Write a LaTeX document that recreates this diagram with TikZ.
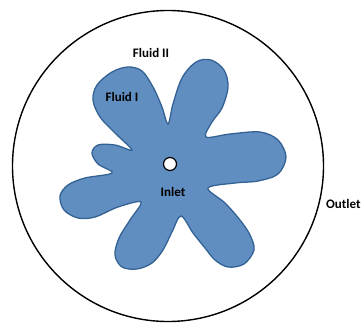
\documentclass[tikz,border=0pt]{standalone}
\usepackage{fontspec}
\setmainfont{Carlito}
\definecolor{blobfill}{RGB}{96,142,192}
\definecolor{blobline}{RGB}{52,98,148}
\begin{document}
\begin{tikzpicture}[x=1pt,y=-1pt,
  lbl/.style={font=\bfseries\fontsize{13}{14}\selectfont, inner sep=0pt}]
\useasboundingbox (0,0) rectangle (361,323);
\node[draw=black, line width=1.4pt, circle, minimum size=311pt, inner sep=0pt] (outer) at (168,166) {};
\draw[fill=blobfill, draw=blobline, line width=1.3pt]
  plot[smooth cycle, tension=0.55] coordinates {
  (132,150) (115,133) (100,117) (93,100) (97,85) (112,72) (128,67) (142,71) (153,87) (162,107) (168,124)
  (173,104) (182,78) (196,62) (211,60) (224,70) (228,87) (222,108) (212,122) (206,137)
  (230,134) (260,132) (278,140) (286,157) (278,174) (258,181) (235,183) (208,188)
  (225,203) (240,220) (250,235) (254,250) (244,264) (228,267) (215,260) (205,248) (193,233) (181,216)
  (172,232) (163,250) (152,263) (137,269) (122,267) (115,255) (119,238) (130,220) (141,202)
  (118,207) (95,217) (78,218) (64,210) (60,196) (68,185) (85,178) (112,173)
  (98,164) (92,153) (98,145) (115,145)};
\node[draw=black, fill=white, line width=1.2pt, circle, minimum size=13pt, inner sep=0pt] (inlethole) at (170,164) {};
\node[lbl] (f2) at (151,53) {Fluid II};
\node[lbl] (f1) at (122,97) {Fluid I};
\node[lbl] (inlet) at (173,192) {Inlet};
\node[lbl, anchor=west] (outlet) at (326,204) {Outlet};
\end{tikzpicture}
\end{document}
